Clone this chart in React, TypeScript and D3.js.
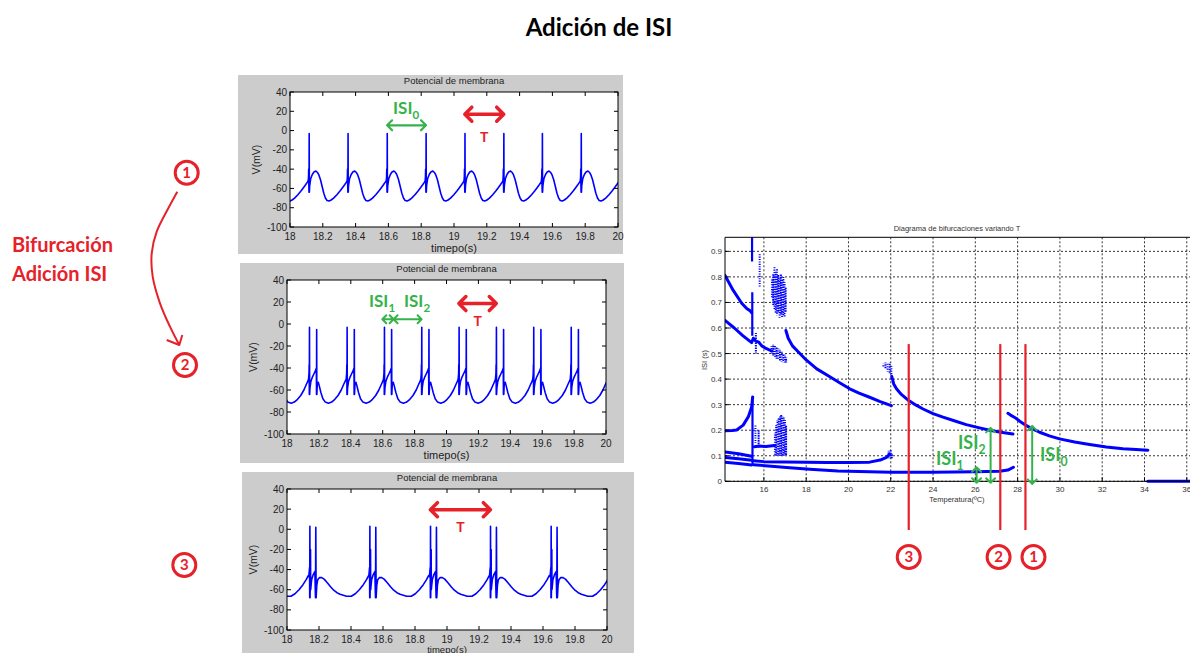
import * as d3 from 'd3'
import type { ReactNode } from 'react'

type Pt = [number, number]
type Span = [number, number, number]

const W = 1190
const H = 653

// ---------- membrane potential panels ----------
const vTicks = [40, 20, 0, -20, -40, -60, -80, -100]
const tTicks = [18, 18.2, 18.4, 18.6, 18.8, 19, 19.2, 19.4, 19.6, 19.8, 20]

// spike times (first spike of each burst)
const spikes1 = [17.878, 18.116, 18.353, 18.592, 18.829, 19.066, 19.303, 19.538, 19.775]
const spikes2 = [17.906, 18.14, 18.376, 18.61, 18.844, 19.078, 19.312, 19.546, 19.781]
const spikes3 = [17.765, 18.142, 18.517, 18.896, 19.271, 19.65]
const intra2 = 0.046

// one cycle of each trace: [time after spike (s), V (mV)]
const cycle1: Pt[] = [
  [-0.005, -52], [-0.003, -48], [-0.002, -40], [-0.001, -57], [0, -64], [0.001, -3], [0.002, -64],
  [0.004, -57], [0.01, -50], [0.02, -45.5], [0.03, -43], [0.042, -42], [0.052, -43.5], [0.06, -46],
  [0.07, -51], [0.08, -58], [0.09, -65], [0.1, -70], [0.11, -72.5], [0.122, -73], [0.135, -72],
  [0.15, -70], [0.17, -66.5], [0.19, -62.5], [0.205, -59], [0.218, -56], [0.228, -53.5],
]
const cycle2: Pt[] = [
  [-0.005, -50], [-0.002, -45], [-0.001, -37], [0, -64], [0.001, -3], [0.002, -64], [0.004, -58],
  [0.01, -52], [0.02, -48], [0.03, -45], [0.04, -42], [0.044, -40], [0.045, -64], [0.046, -5],
  [0.047, -64], [0.05, -55], [0.056, -53], [0.062, -56], [0.072, -62], [0.085, -68], [0.1, -71],
  [0.12, -72], [0.14, -71], [0.16, -68.5], [0.18, -65], [0.2, -60], [0.215, -55], [0.225, -52],
]
const cycle3: Pt[] = [
  [-0.006, -47], [-0.003, -42], [-0.001, -38], [0, -68], [0.001, 3], [0.002, -68], [0.004, -48],
  [0.005, -20], [0.006, -60], [0.012, -50], [0.022, -45], [0.032, -42], [0.036, -68], [0.038, 2],
  [0.04, -68], [0.044, -56], [0.05, -50], [0.06, -48], [0.075, -48], [0.09, -49.5], [0.11, -53],
  [0.13, -57], [0.15, -60.5], [0.17, -63], [0.19, -64.5], [0.21, -65.5], [0.23, -66.5],
  [0.26, -66.5], [0.285, -64], [0.31, -60], [0.335, -55], [0.355, -50], [0.368, -46],
]

// ---------- bifurcation diagram ----------
const tempTicks = [16, 18, 20, 22, 24, 26, 28, 30, 32, 34, 36]
const isiTicks = [0, 0.1, 0.2, 0.3, 0.4, 0.5, 0.6, 0.7, 0.8, 0.9]

const branchA: Pt[] = [[14.16, 0.806], [14.55, 0.747], [14.95, 0.697], [15.2, 0.675], [15.34, 0.668], [15.42, 0.66]]
const branchB: Pt[] = [
  [14.16, 0.63], [14.6, 0.6], [15.0, 0.57], [15.42, 0.543], [15.5, 0.56], [15.6, 0.55],
  [15.75, 0.545], [15.9, 0.53], [16.1, 0.52], [16.36, 0.51],
]
const branchC: Pt[] = [
  [17.04, 0.59], [17.15, 0.56], [17.35, 0.53], [17.7, 0.5], [18.0, 0.475], [18.5, 0.44],
  [19.1, 0.41], [19.6, 0.385], [20.06, 0.362], [20.5, 0.345], [21.0, 0.329], [21.5, 0.312], [22.03, 0.296],
]
const branchD: Pt[] = [
  [22.05, 0.41], [22.14, 0.381], [22.27, 0.362], [22.5, 0.34], [22.85, 0.316], [23.2, 0.298],
  [23.53, 0.283], [24.0, 0.265], [24.47, 0.251], [25.0, 0.237], [25.57, 0.222], [26.1, 0.211],
  [26.68, 0.2], [27.2, 0.192], [27.78, 0.185],
]
const branchE: Pt[] = [
  [27.54, 0.266], [27.65, 0.26], [27.86, 0.25], [28.1, 0.235], [28.33, 0.222], [28.7, 0.205],
  [29.04, 0.192], [29.5, 0.178], [29.98, 0.166], [30.7, 0.154], [31.4, 0.144], [32.2, 0.134],
  [32.98, 0.127], [33.6, 0.124], [34.16, 0.122],
]
const branchZero: Pt[] = [[34.16, 0], [36.2, 0]]
const branchG: Pt[] = [[14.16, 0.198], [14.5, 0.199], [14.71, 0.201], [15.02, 0.22], [15.26, 0.252], [15.42, 0.291], [15.47, 0.33]]
const lowA: Pt[] = [[14.16, 0.115], [14.8, 0.108], [15.42, 0.098]]
const lowB: Pt[] = [[14.16, 0.093], [14.8, 0.088], [15.42, 0.082]]
const lowC: Pt[] = [[14.16, 0.075], [14.8, 0.07], [15.42, 0.064]]
const lowD: Pt[] = [
  [15.5, 0.08], [16.0, 0.077], [17.0, 0.076], [18.0, 0.075], [19.0, 0.074], [20.0, 0.074],
  [21.0, 0.075], [21.5, 0.083], [21.8, 0.094], [21.95, 0.107],
]
const lowE: Pt[] = [
  [15.5, 0.065], [16.5, 0.058], [17.07, 0.054], [18.17, 0.047], [19.5, 0.04], [21.0, 0.037],
  [22.0, 0.035], [24.0, 0.035], [26.0, 0.037], [27.15, 0.039], [27.54, 0.044], [27.8, 0.055],
]
const band: Pt[] = [[15.55, 0.135], [15.8, 0.138], [16.1, 0.136], [16.5, 0.14]]

// near-vertical jumps: [T, ISI low, ISI high]
const jumps: Span[] = [[15.46, 0.06, 0.33], [15.45, 0.57, 0.74], [15.44, 0.86, 0.96]]

// scattered (chaotic) regions: [T, ISI low, ISI high]
const cloudTop: Span[] = [
  [16.38, 0.72, 0.79], [16.44, 0.69, 0.81], [16.5, 0.67, 0.84], [16.56, 0.66, 0.82], [16.62, 0.65, 0.83],
  [16.68, 0.66, 0.81], [16.74, 0.64, 0.8], [16.8, 0.65, 0.81], [16.86, 0.64, 0.79], [16.92, 0.65, 0.8],
  [16.98, 0.64, 0.78], [17.03, 0.66, 0.76],
]
const cloudMid: Span[] = [
  [16.36, 0.5, 0.53], [16.44, 0.49, 0.535], [16.52, 0.485, 0.53], [16.6, 0.48, 0.525], [16.68, 0.475, 0.52],
  [16.76, 0.47, 0.515], [16.84, 0.468, 0.51], [16.92, 0.466, 0.5], [17.0, 0.465, 0.495], [17.05, 0.465, 0.485],
]
const cloudLow: Span[] = [
  [16.52, 0.1, 0.19], [16.58, 0.1, 0.22], [16.64, 0.1, 0.24], [16.7, 0.1, 0.25], [16.76, 0.1, 0.255],
  [16.82, 0.1, 0.26], [16.88, 0.1, 0.255], [16.94, 0.1, 0.25], [17.0, 0.1, 0.24], [17.05, 0.1, 0.22],
]
const cloudSparse: Span[] = [[15.6, 0.15, 0.22], [15.75, 0.13, 0.2], [15.8, 0.76, 0.89], [15.62, 0.5, 0.58]]
const cloud22: Span[] = [
  [21.65, 0.445, 0.46], [21.75, 0.44, 0.465], [21.85, 0.43, 0.46], [21.95, 0.42, 0.465], [22.03, 0.41, 0.45],
  [21.9, 0.09, 0.12], [22.0, 0.085, 0.125], [22.05, 0.09, 0.11],
]

// annotation positions on the diagram (T in ºC)
const cutT = [22.85, 27.18, 28.37]
const cutLabels = ['3', '2', '1']
const cutLabelT = [22.85, 27.1, 28.75]

const RED = '#e62129'
const GREEN = '#35b34a'
const BLUE = '#0000ff'
const BIG = 'Lato, "Open Sans", sans-serif'

function Arrow({ x1, y1, x2, y2, color, sw, head }: { x1: number; y1: number; x2: number; y2: number; color: string; sw: number; head: number }) {
  const a = Math.atan2(y2 - y1, x2 - x1)
  const c = Math.cos(a), s = Math.sin(a)
  const p = (x: number, y: number) => `${x.toFixed(1)},${y.toFixed(1)}`
  const d =
    `M${p(x1, y1)}L${p(x2, y2)}` +
    `M${p(x2 - head * c - head * s, y2 - head * s + head * c)}L${p(x2, y2)}L${p(x2 - head * c + head * s, y2 - head * s - head * c)}` +
    `M${p(x1 + head * c - head * s, y1 + head * s + head * c)}L${p(x1, y1)}L${p(x1 + head * c + head * s, y1 + head * s - head * c)}`
  return <path d={d} fill="none" stroke={color} strokeWidth={sw} strokeLinecap="round" strokeLinejoin="round" />
}

function Circled({ cx, cy, label }: { cx: number; cy: number; label: string }) {
  return (
    <g>
      <circle cx={cx} cy={cy} r={11.5} fill="#fff" stroke={RED} strokeWidth={3} />
      <text x={cx} y={cy + 5} textAnchor="middle" fontFamily={BIG} fontWeight={700} fontSize={15} fill={RED}>{label}</text>
    </g>
  )
}

function IsiLabel({ x, y, sub, size = 18 }: { x: number; y: number; sub: string; size?: number }) {
  return (
    <text x={x} y={y} fontFamily={BIG} fontWeight={700} fontSize={size} fill={GREEN}>
      ISI<tspan dy={5} fontSize={size * 0.68}>{sub}</tspan>
    </text>
  )
}

type Box = { x: number; y: number; w: number; h: number }
type Plot = { l: number; t: number; r: number; b: number }
type Sc = d3.ScaleLinear<number, number>

function VoltagePanel({ id, box, plot, spikes, cycle, labelGap = 25, labelSize = 11, children }: {
  id: string; box: Box; plot: Plot; spikes: number[]; cycle: Pt[]; labelGap?: number; labelSize?: number
  children: (x: Sc, y: Sc) => ReactNode
}) {
  const x = d3.scaleLinear().domain([18, 20]).range([plot.l, plot.r])
  const y = d3.scaleLinear().domain([-100, 40]).range([plot.b, plot.t])
  const pts: Pt[] = spikes.flatMap(s => cycle.map(([dt, v]) => [s + dt, v] as Pt))
  const line = d3.line<Pt>().x(d => x(d[0])).y(d => y(d[1]))
  return (
    <g fontFamily='"Liberation Sans", Arial, sans-serif' fill="#222">
      <rect x={box.x} y={box.y} width={box.w} height={box.h} fill="#cccccc" />
      <clipPath id={id}>
        <rect x={plot.l} y={plot.t} width={plot.r - plot.l} height={plot.b - plot.t} />
      </clipPath>
      <rect x={plot.l} y={plot.t} width={plot.r - plot.l} height={plot.b - plot.t} fill="#fff" />
      <path d={line(pts) ?? ''} fill="none" stroke={BLUE} strokeWidth={1.6} strokeLinejoin="round" clipPath={`url(#${id})`} />
      <rect x={plot.l} y={plot.t} width={plot.r - plot.l} height={plot.b - plot.t} fill="none" stroke="#000" strokeWidth={1} />
      {vTicks.map(v => (
        <g key={v}>
          <line x1={plot.l} x2={plot.l + 4} y1={y(v)} y2={y(v)} stroke="#000" />
          <line x1={plot.r - 4} x2={plot.r} y1={y(v)} y2={y(v)} stroke="#000" />
          <text x={plot.l - 3} y={y(v) + 3.5} textAnchor="end" fontSize={10}>{v}</text>
        </g>
      ))}
      {tTicks.map(t => (
        <g key={t}>
          <line x1={x(t)} x2={x(t)} y1={plot.b} y2={plot.b - 4} stroke="#000" />
          <line x1={x(t)} x2={x(t)} y1={plot.t} y2={plot.t + 4} stroke="#000" />
          <text x={x(t)} y={plot.b + 12.5} textAnchor="middle" fontSize={10}>{String(t)}</text>
        </g>
      ))}
      <text x={(plot.l + plot.r) / 2} y={plot.t - 8} textAnchor="middle" fontSize={9.5}>Potencial de membrana</text>
      <text x={(plot.l + plot.r) / 2} y={plot.b + labelGap} textAnchor="middle" fontSize={labelSize}>timepo(s)</text>
      <text transform={`translate(${plot.l - 30},${(plot.t + plot.b) / 2}) rotate(-90)`} textAnchor="middle" fontSize={10.5}>V(mV)</text>
      {children(x, y)}
    </g>
  )
}

function Bifurcation() {
  const x = d3.scaleLinear().domain([14.16, 36.2]).range([725, 1191])
  const y = d3.scaleLinear().domain([0, 0.955]).range([481.3, 237.3])
  const line = d3.line<Pt>().x(d => x(d[0])).y(d => y(d[1]))
  const branches = [branchA, branchB, branchC, branchD, branchE, branchZero, branchG, lowA, lowB, lowC, lowD, lowE, band]
  const clouds = [...cloudTop, ...cloudMid, ...cloudLow, ...cloudSparse, ...cloud22]
  return (
    <g fontFamily='"Liberation Sans", Arial, sans-serif' fill="#333">
      <clipPath id="bifclip">
        <rect x={725} y={237.3} width={470} height={247} />
      </clipPath>
      {tempTicks.map(t => (
        <line key={t} x1={x(t)} x2={x(t)} y1={237.3} y2={481.3} stroke="#000" strokeWidth={0.8} strokeDasharray="2,2" />
      ))}
      {isiTicks.map(v => (
        <line key={v} x1={725} x2={1190} y1={y(v)} y2={y(v)} stroke="#000" strokeWidth={0.8} strokeDasharray="2,2" />
      ))}
      <g clipPath="url(#bifclip)">
        {clouds.map((c, i) => (
          <line key={i} x1={x(c[0])} x2={x(c[0])} y1={y(c[1])} y2={y(c[2])} stroke={BLUE} strokeWidth={2}
            strokeDasharray={i % 2 ? '1.6,0.9' : '1.1,1.3'} strokeDashoffset={(i * 0.7) % 2} />
        ))}
        {jumps.map((c, i) => (
          <line key={i} x1={x(c[0])} x2={x(c[0])} y1={y(c[1])} y2={y(c[2])} stroke={BLUE} strokeWidth={2.2} />
        ))}
        {branches.map((b, i) => (
          <path key={i} d={line(b) ?? ''} fill="none" stroke={BLUE} strokeWidth={3} strokeLinecap="round" strokeLinejoin="round" />
        ))}
      </g>
      <line x1={725} x2={725} y1={237.3} y2={481.3} stroke="#000" />
      <line x1={725} x2={1190} y1={481.3} y2={481.3} stroke="#000" />
      <line x1={725} x2={1190} y1={237.3} y2={237.3} stroke="#000" />
      {isiTicks.map(v => (
        <g key={v}>
          <line x1={725} x2={729} y1={y(v)} y2={y(v)} stroke="#000" />
          <text x={722} y={y(v) + 3} textAnchor="end" fontSize={8}>{String(v)}</text>
        </g>
      ))}
      {tempTicks.map(t => (
        <g key={t}>
          <line x1={x(t)} x2={x(t)} y1={481.3} y2={477.3} stroke="#000" />
          <text x={x(t)} y={492} textAnchor="middle" fontSize={8}>{String(t)}</text>
        </g>
      ))}
      <text x={957} y={231} textAnchor="middle" fontSize={7.5}>Diagrama de bifurcaciones variando T</text>
      <text x={957} y={502} textAnchor="middle" fontSize={7.5}>Temperatura(ºC)</text>
      <text transform={`translate(707,360) rotate(-90)`} textAnchor="middle" fontSize={7.5}>ISI (s)</text>

      {cutT.map(t => (
        <line key={t} x1={x(t)} x2={x(t)} y1={y(0.537)} y2={530} stroke={RED} strokeWidth={2.2} />
      ))}
      {cutLabelT.map((t, i) => <Circled key={t} cx={x(t)} cy={557} label={cutLabels[i]} />)}

      <Arrow x1={x(26.06)} y1={y(0.055)} x2={x(26.06)} y2={y(-0.006)} color={GREEN} sw={2} head={4.5} />
      <Arrow x1={x(26.72)} y1={y(0.209)} x2={x(26.72)} y2={y(-0.006)} color={GREEN} sw={2} head={4.5} />
      <Arrow x1={x(28.69)} y1={y(0.217)} x2={x(28.69)} y2={y(-0.01)} color={GREEN} sw={2} head={4.5} />
      <IsiLabel x={958} y={449} sub="2" />
      <IsiLabel x={936} y={465} sub="1" />
      <IsiLabel x={1040} y={461} sub="0" />
    </g>
  )
}

export default function App() {
  const curve = d3.line<Pt>().curve(d3.curveCatmullRom)([
    [177.3, 191.7], [168.3, 208.3], [156.7, 231.7], [151.7, 253.3], [152.7, 276.7], [160, 303.3], [170, 326.7], [179.3, 345],
  ])
  return (
    <svg width={W} height={H} style={{ position: 'absolute', left: 0, top: 0, background: '#fff' }}>
      <text x={599} y={36} textAnchor="middle" fontFamily={BIG} fontWeight={700} fontSize={24} fill="#000">Adición de ISI</text>

      <text x={12} y={252} fontFamily={BIG} fontWeight={700} fontSize={20} fill={RED}>Bifurcación</text>
      <text x={12} y={281} fontFamily={BIG} fontWeight={700} fontSize={20} fill={RED}>Adición ISI</text>
      <path d={curve ?? ''} fill="none" stroke={RED} strokeWidth={2} />
      <path d="M166.7,340 L179.3,345 L182.3,335" fill="none" stroke={RED} strokeWidth={2} strokeLinejoin="round" />
      <Circled cx={186.7} cy={172.7} label="1" />
      <Circled cx={185} cy={365} label="2" />
      <Circled cx={184.3} cy={565} label="3" />

      <VoltagePanel id="p1" box={{ x: 238, y: 75, w: 385, h: 179 }} plot={{ l: 290, t: 92, r: 618, b: 227 }} spikes={spikes1} cycle={cycle1}>
        {(x, y) => (
          <g>
            <Arrow x1={x(spikes1[3])} y1={y(5.5)} x2={x(spikes1[4])} y2={y(5.5)} color={GREEN} sw={2.2} head={5} />
            <IsiLabel x={x(spikes1[3]) + 6} y={y(17)} sub="0" size={17} />
            <Arrow x1={x(spikes1[5])} y1={y(17)} x2={x(spikes1[6])} y2={y(17)} color={RED} sw={3.5} head={7} />
            <text x={(x(spikes1[5]) + x(spikes1[6])) / 2} y={y(-12)} textAnchor="middle" fontFamily={BIG} fontWeight={700} fontSize={14} fill={RED}>T</text>
          </g>
        )}
      </VoltagePanel>

      <VoltagePanel id="p2" box={{ x: 240, y: 263, w: 384, h: 200 }} plot={{ l: 287, t: 280, r: 606, b: 434 }} spikes={spikes2} cycle={cycle2}>
        {(x, y) => (
          <g>
            <Arrow x1={x(spikes2[3]) - 2} y1={y(4.3)} x2={x(spikes2[3] + intra2) + 2} y2={y(4.3)} color={GREEN} sw={2} head={4} />
            <Arrow x1={x(spikes2[3] + intra2) + 2} y1={y(4.3)} x2={x(spikes2[4])} y2={y(4.3)} color={GREEN} sw={2} head={4} />
            <IsiLabel x={369} y={y(15.5)} sub="1" size={17} />
            <IsiLabel x={404} y={y(15.5)} sub="2" size={17} />
            <Arrow x1={x(spikes2[5])} y1={y(18.5)} x2={x(spikes2[6])} y2={y(18.5)} color={RED} sw={3.5} head={7} />
            <text x={(x(spikes2[5]) + x(spikes2[6])) / 2} y={y(-2)} textAnchor="middle" fontFamily={BIG} fontWeight={700} fontSize={14} fill={RED}>T</text>
          </g>
        )}
      </VoltagePanel>

      <VoltagePanel id="p3" box={{ x: 242, y: 472, w: 392, h: 181 }} plot={{ l: 287, t: 489, r: 607, b: 630 }} spikes={spikes3} cycle={cycle3} labelGap={22.5} labelSize={9.5}>
        {(x, y) => (
          <g>
            <Arrow x1={x(spikes3[3])} y1={y(19.4)} x2={x(spikes3[4])} y2={y(19.4)} color={RED} sw={3.5} head={7} />
            <text x={(x(spikes3[3]) + x(spikes3[4])) / 2} y={y(-3)} textAnchor="middle" fontFamily={BIG} fontWeight={700} fontSize={14} fill={RED}>T</text>
          </g>
        )}
      </VoltagePanel>

      <Bifurcation />
    </svg>
  )
}
